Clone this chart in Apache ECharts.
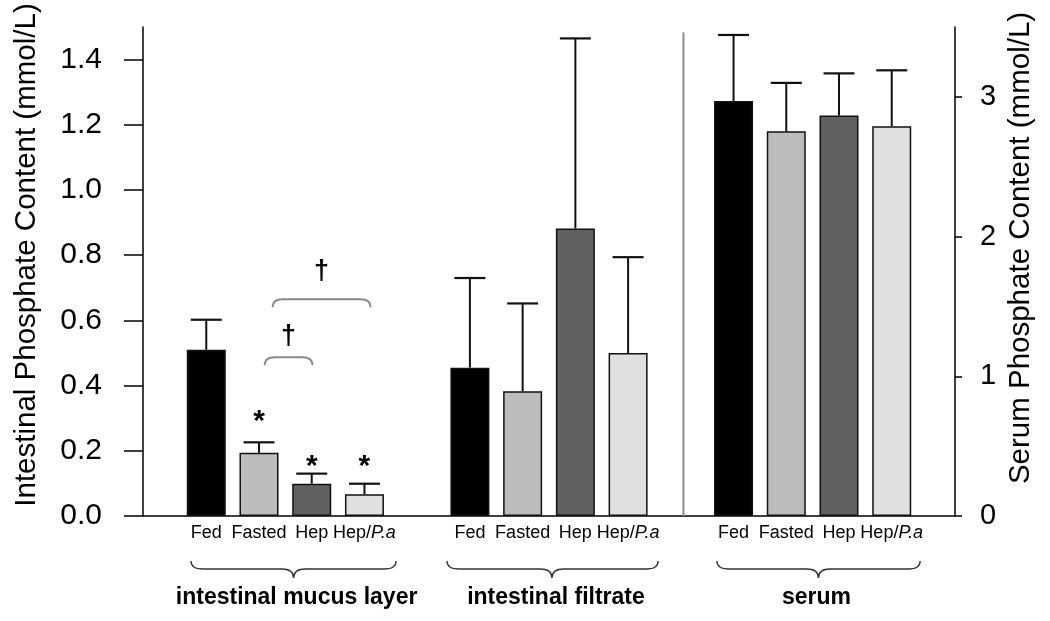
<!DOCTYPE html>
<html><head><meta charset="utf-8">
<script src="https://cdn.jsdelivr.net/npm/echarts@6/dist/echarts.min.js"></script>
<style>html,body{margin:0;padding:0;background:#fff}#c{width:1050px;height:621px}</style>
</head><body><div id="c"></div>
<script>
// ---- data ----
const categories = ['Fed', 'Fasted', 'Hep', 'Hep/P.a'];
const groupNames = ['intestinal mucus layer', 'intestinal filtrate', 'serum'];
const mucusSlots = [0, 1, 2, 3];
const filtrateSlots = [5, 6, 7, 8];
const serumSlots = [10, 11, 12, 13];
const mucusMean = [0.51, 0.194, 0.099, 0.067];
const mucusErr = [0.092, 0.032, 0.031, 0.032];
const filtrateMean = [0.455, 0.383, 0.882, 0.50];
const filtrateErr = [0.275, 0.269, 0.583, 0.294];
const serumMean = [2.97, 2.753, 2.867, 2.79];
const serumErr = [0.473, 0.347, 0.301, 0.40];
const leftTicks = [0, 0.2, 0.4, 0.6, 0.8, 1.0, 1.2, 1.4];
const rightTicks = [0, 1, 2, 3];
const starX = [1, 2, 3];
const starY = [0.305, 0.166, 0.166];
const bracketX1 = [1.106, 1.257];
const bracketX2 = [2.016, 3.116];
const bracketY = [0.487, 0.665];
const daggerY = [0.553, 0.752];
const braceX1 = [-0.29, 4.565, 9.685];
const braceX2 = [3.6, 8.57, 13.54];
const braceTip = [1.656, 6.556, 11.61];
const separatorX = [9.05];
const separatorTop = [1.483];

// ---- style ----
const FONT = "'Liberation Sans', Arial, Helvetica, sans-serif";
const fills = ['#000000', '#bcbcbc', '#606060', '#e0e0e0'];

const allSlots = mucusSlots.concat(filtrateSlots, serumSlots);
function catName(v) {
  const r = Math.round(v);
  let k = mucusSlots.indexOf(r);
  if (k < 0) k = filtrateSlots.indexOf(r);
  if (k < 0) k = serumSlots.indexOf(r);
  return k < 0 ? '' : categories[k];
}
function barData(slots, means) {
  return slots.map((s, i) => ({ value: [s, means[i]], itemStyle: { color: fills[i] } }));
}
function errData(slots, means, errs) {
  return slots.map((s, i) => [s, means[i], errs[i]]);
}
function renderErr(params, api) {
  const x = api.value(0), m = api.value(1), e = api.value(2);
  const p0 = api.coord([x, m]);
  const p1 = api.coord([x, m + e]);
  const hw = 15.5;
  return {
    type: 'group',
    children: [
      { type: 'line', shape: { x1: p0[0], y1: p0[1], x2: p1[0], y2: p1[1] }, style: { stroke: '#111', lineWidth: 2 } },
      { type: 'line', shape: { x1: p1[0] - hw, y1: p1[1], x2: p1[0] + hw, y2: p1[1] }, style: { stroke: '#111', lineWidth: 2.2 } }
    ]
  };
}

const chart = echarts.init(document.getElementById('c'), null, { renderer: 'canvas' });
const option = {
  backgroundColor: '#ffffff',
  animation: false,
  grid: { left: 143, right: 95, top: 27, bottom: 105, containLabel: false },
  xAxis: {
    type: 'value', min: -1.2, max: 14.2,
    axisLine: { show: true, onZero: false, lineStyle: { color: '#000', width: 1.5 } },
    axisTick: { show: false },
    splitLine: { show: false },
    axisLabel: {
      customValues: allSlots,
      margin: 8,
      fontSize: 18, color: '#000', fontFamily: FONT,
      formatter: (v) => catName(v).replace('P.a', '{it|P.a}'),
      rich: { it: { fontStyle: 'italic', fontSize: 18, color: '#000', fontFamily: FONT } }
    }
  },
  yAxis: [
    {
      type: 'value', min: 0, max: 1.5, position: 'left',
      axisLine: { show: true, onZero: false, lineStyle: { color: '#000', width: 1.5 } },
      axisTick: { show: true, length: 19, customValues: leftTicks, lineStyle: { color: '#000', width: 1.5 } },
      axisLabel: { customValues: leftTicks, formatter: (v) => v.toFixed(1), fontSize: 30, color: '#000', margin: 41, fontFamily: FONT },
      splitLine: { show: false }
    },
    {
      type: 'value', min: 0, max: 3.5, position: 'right',
      axisLine: { show: true, onZero: false, lineStyle: { color: '#000', width: 1.5 } },
      axisTick: { show: true, length: 7, customValues: rightTicks, lineStyle: { color: '#000', width: 1.5 } },
      axisLabel: { customValues: rightTicks, formatter: (v) => String(v), fontSize: 29, color: '#000', margin: 25, fontFamily: FONT },
      splitLine: { show: false }
    }
  ],
  graphic: [
    { type: 'text', x: 27, y: 255, rotation: Math.PI / 2,
      style: { text: 'Intestinal Phosphate Content (mmol/L)', fontSize: 29.5, fontFamily: FONT, fill: '#000', textAlign: 'center', textVerticalAlign: 'middle' } },
    { type: 'text', x: 1021, y: 248, rotation: Math.PI / 2,
      style: { text: 'Serum Phosphate Content (mmol/L)', fontSize: 29.5, fontFamily: FONT, fill: '#000', textAlign: 'center', textVerticalAlign: 'middle' } }
  ],
  series: [
    { type: 'bar', name: 'mucus', yAxisIndex: 0, barWidth: 39, barGap: '-100%',
      itemStyle: { borderColor: '#111', borderWidth: 1.5 }, data: barData(mucusSlots, mucusMean) },
    { type: 'bar', name: 'filtrate', yAxisIndex: 0, barWidth: 39, barGap: '-100%',
      itemStyle: { borderColor: '#111', borderWidth: 1.5 }, data: barData(filtrateSlots, filtrateMean) },
    { type: 'bar', name: 'serum', yAxisIndex: 1, barWidth: 39, barGap: '-100%',
      itemStyle: { borderColor: '#111', borderWidth: 1.5 }, data: barData(serumSlots, serumMean) },
    { type: 'custom', yAxisIndex: 0, z: 5, renderItem: renderErr, data: errData(mucusSlots, mucusMean, mucusErr) },
    { type: 'custom', yAxisIndex: 0, z: 5, renderItem: renderErr, data: errData(filtrateSlots, filtrateMean, filtrateErr) },
    { type: 'custom', yAxisIndex: 1, z: 5, renderItem: renderErr, data: errData(serumSlots, serumMean, serumErr) },
    // significance stars
    { type: 'custom', yAxisIndex: 0, z: 6, clip: false,
      data: starX.map((x, i) => [x, starY[i]]),
      renderItem: (params, api) => {
        const p = api.coord([api.value(0), api.value(1)]);
        return { type: 'text', x: p[0], y: p[1] + 5,
          style: { text: '*', fontSize: 30, fontWeight: 'bold', fontFamily: FONT, fill: '#000', textAlign: 'center', textVerticalAlign: 'middle' } };
      } },
    // brackets with daggers
    { type: 'custom', yAxisIndex: 0, z: 6, clip: false,
      data: bracketX1.map((x, i) => [x, bracketX2[i], bracketY[i], daggerY[i]]),
      renderItem: (params, api) => {
        const a = api.coord([api.value(0), api.value(2)]);
        const b = api.coord([api.value(1), api.value(2)]);
        const d = api.coord([(api.value(0) + api.value(1)) / 2, api.value(3)]);
        const r = 10, drop = 8, y = a[1];
        const path = 'M' + a[0] + ' ' + (y + drop) + ' Q' + a[0] + ' ' + y + ' ' + (a[0] + r) + ' ' + y +
          ' L' + (b[0] - r) + ' ' + y + ' Q' + b[0] + ' ' + y + ' ' + b[0] + ' ' + (y + drop);
        return { type: 'group', children: [
          { type: 'path', shape: { pathData: path }, style: { stroke: '#8a8a8a', lineWidth: 2, fill: null } },
          { type: 'text', x: d[0], y: d[1] + 1,
            style: { text: '\u2020', fontSize: 27, fontWeight: 'bold', fontFamily: FONT, fill: '#000', textAlign: 'center', textVerticalAlign: 'middle' } }
        ] };
      } },
    // separator line
    { type: 'custom', yAxisIndex: 0, z: 4, clip: false,
      data: separatorX.map((x, i) => [x, separatorTop[i]]),
      renderItem: (params, api) => {
        const p0 = api.coord([api.value(0), 0]);
        const p1 = api.coord([api.value(0), api.value(1)]);
        return { type: 'line', shape: { x1: p0[0], y1: p0[1], x2: p1[0], y2: p1[1] }, style: { stroke: '#8c8c8c', lineWidth: 2 } };
      } },
    // group braces and names
    { type: 'custom', yAxisIndex: 0, z: 6, clip: false,
      data: braceX1.map((x, i) => [x, braceX2[i], braceTip[i], i]),
      renderItem: (params, api) => {
        const a = api.coord([api.value(0), 0]);
        const b = api.coord([api.value(1), 0]);
        const t = api.coord([api.value(2), 0]);
        const yb = a[1];
        const yTop = yb + 45, yMid = yb + 53, yTip = yb + 62, r = 12;
        const x1 = a[0], x2 = b[0], xt = t[0];
        const path = 'M' + x1 + ' ' + yTop + ' Q' + x1 + ' ' + yMid + ' ' + (x1 + r) + ' ' + yMid +
          ' L' + (xt - r) + ' ' + yMid + ' Q' + xt + ' ' + yMid + ' ' + xt + ' ' + yTip +
          ' Q' + xt + ' ' + yMid + ' ' + (xt + r) + ' ' + yMid +
          ' L' + (x2 - r) + ' ' + yMid + ' Q' + x2 + ' ' + yMid + ' ' + x2 + ' ' + yTop;
        const dx = [3, 4, -2][api.value(3)];
        return { type: 'group', children: [
          { type: 'path', shape: { pathData: path }, style: { stroke: '#333', lineWidth: 1.3, fill: null } },
          { type: 'text', x: xt + dx, y: yb + 82,
            style: { text: groupNames[api.value(3)], fontSize: 23, fontWeight: 'bold', fontFamily: FONT, fill: '#000', textAlign: 'center', textVerticalAlign: 'middle' } }
        ] };
      } }
  ]
};
chart.setOption(option);
</script>
</body></html>
